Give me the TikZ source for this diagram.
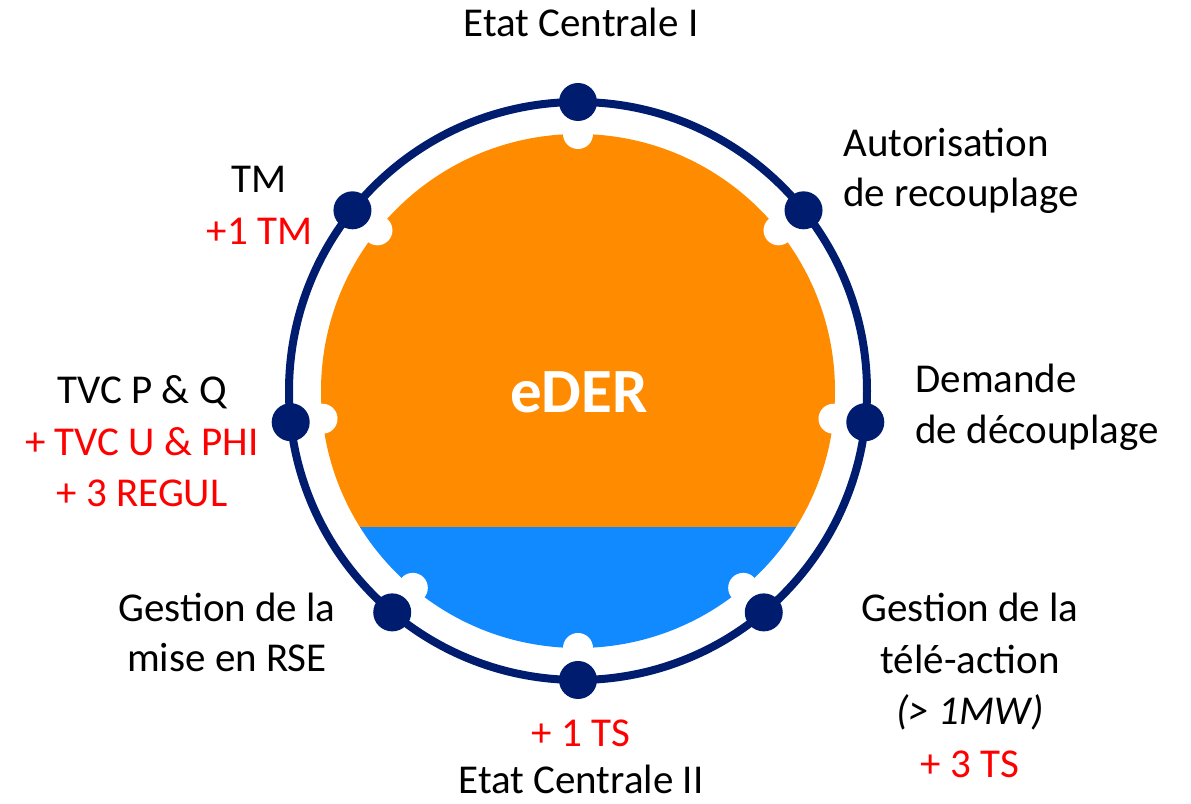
\documentclass[tikz,border=0pt]{standalone}
\usepackage{fontspec}
\setmainfont{Carlito}
\definecolor{navy}{RGB}{0,28,110}
\definecolor{derorange}{RGB}{255,139,0}
\definecolor{derblue}{RGB}{18,138,255}
\definecolor{addred}{RGB}{255,0,0}
\begin{document}
\begin{tikzpicture}[x=0.5pt,y=0.5pt,
  lbl/.style={inner sep=0pt, font=\fontsize{20.5}{25.5}\selectfont, anchor=base},
  lblw/.style={lbl, anchor=base west},
  add/.style={text=addred},
  dot/.style={circle, fill=navy, inner sep=0pt, minimum size=19pt},
  notch/.style={circle, fill=white, inner sep=0pt, minimum size=15pt}]
\useasboundingbox (0,0) rectangle (1191,804);
\begin{scope}[shift={(578,413)}]
  \begin{scope}
    \clip (-300,-137) rectangle (300,300);
    \fill[derorange] (0,0) circle[radius=257];
  \end{scope}
  \begin{scope}
    \clip (-300,-300) rectangle (300,-137);
    \fill[derblue] (0,0) circle[radius=257];
  \end{scope}
  \foreach \a/\n in {90/1,38.7/2,-6.2/3,-50/4,-90/5,-130/6,186.2/7,141.3/8}
    \node[notch] (n\n) at (\a:257) {};
  \draw[navy, line width=4pt] (0,0) circle[radius=289];
  \foreach \a/\n in {90/1,38.7/2,-6.2/3,-50/4,-90/5,-130/6,186.2/7,141.3/8}
    \node[dot] (d\n) at (\a:289) {};
\end{scope}
\node[lbl, text=white, font=\fontsize{31.5}{36}\selectfont\bfseries] (eder) at (579,391) {eDER};
\node[lbl] (ec1) at (581,767) {Etat Centrale I};
\node[lblw] (aut1) at (843,647) {Autorisation};
\node[lblw] (aut2) at (843,597) {de recouplage};
\node[lbl] (tm1) at (259.5,611) {TM};
\node[lbl,add] (tm2) at (259.5,559) {+1 TM};
\node[lblw] (dem1) at (915,411) {Demande};
\node[lblw] (dem2) at (915,360) {de découplage};
\node[lbl] (tvc1) at (142,400) {TVC P \& Q};
\node[lbl,add] (tvc2) at (142,348) {+ TVC U \& PHI};
\node[lbl,add] (tvc3) at (142,297) {+ 3 REGUL};
\node[lbl] (rse1) at (227,182) {Gestion de la};
\node[lbl] (rse2) at (227,132) {mise en RSE};
\node[lbl] (ta1) at (970,182) {Gestion de la};
\node[lbl] (ta2) at (970,130) {télé-action};
\node[lbl] (ta3) at (970,79) {\itshape (> 1MW)};
\node[lbl,add] (ta4) at (970,26) {+ 3 TS};
\node[lbl,add] (ts1) at (581,57) {+ 1 TS};
\node[lbl] (ec2) at (581,10) {Etat Centrale II};
\end{tikzpicture}
\end{document}
